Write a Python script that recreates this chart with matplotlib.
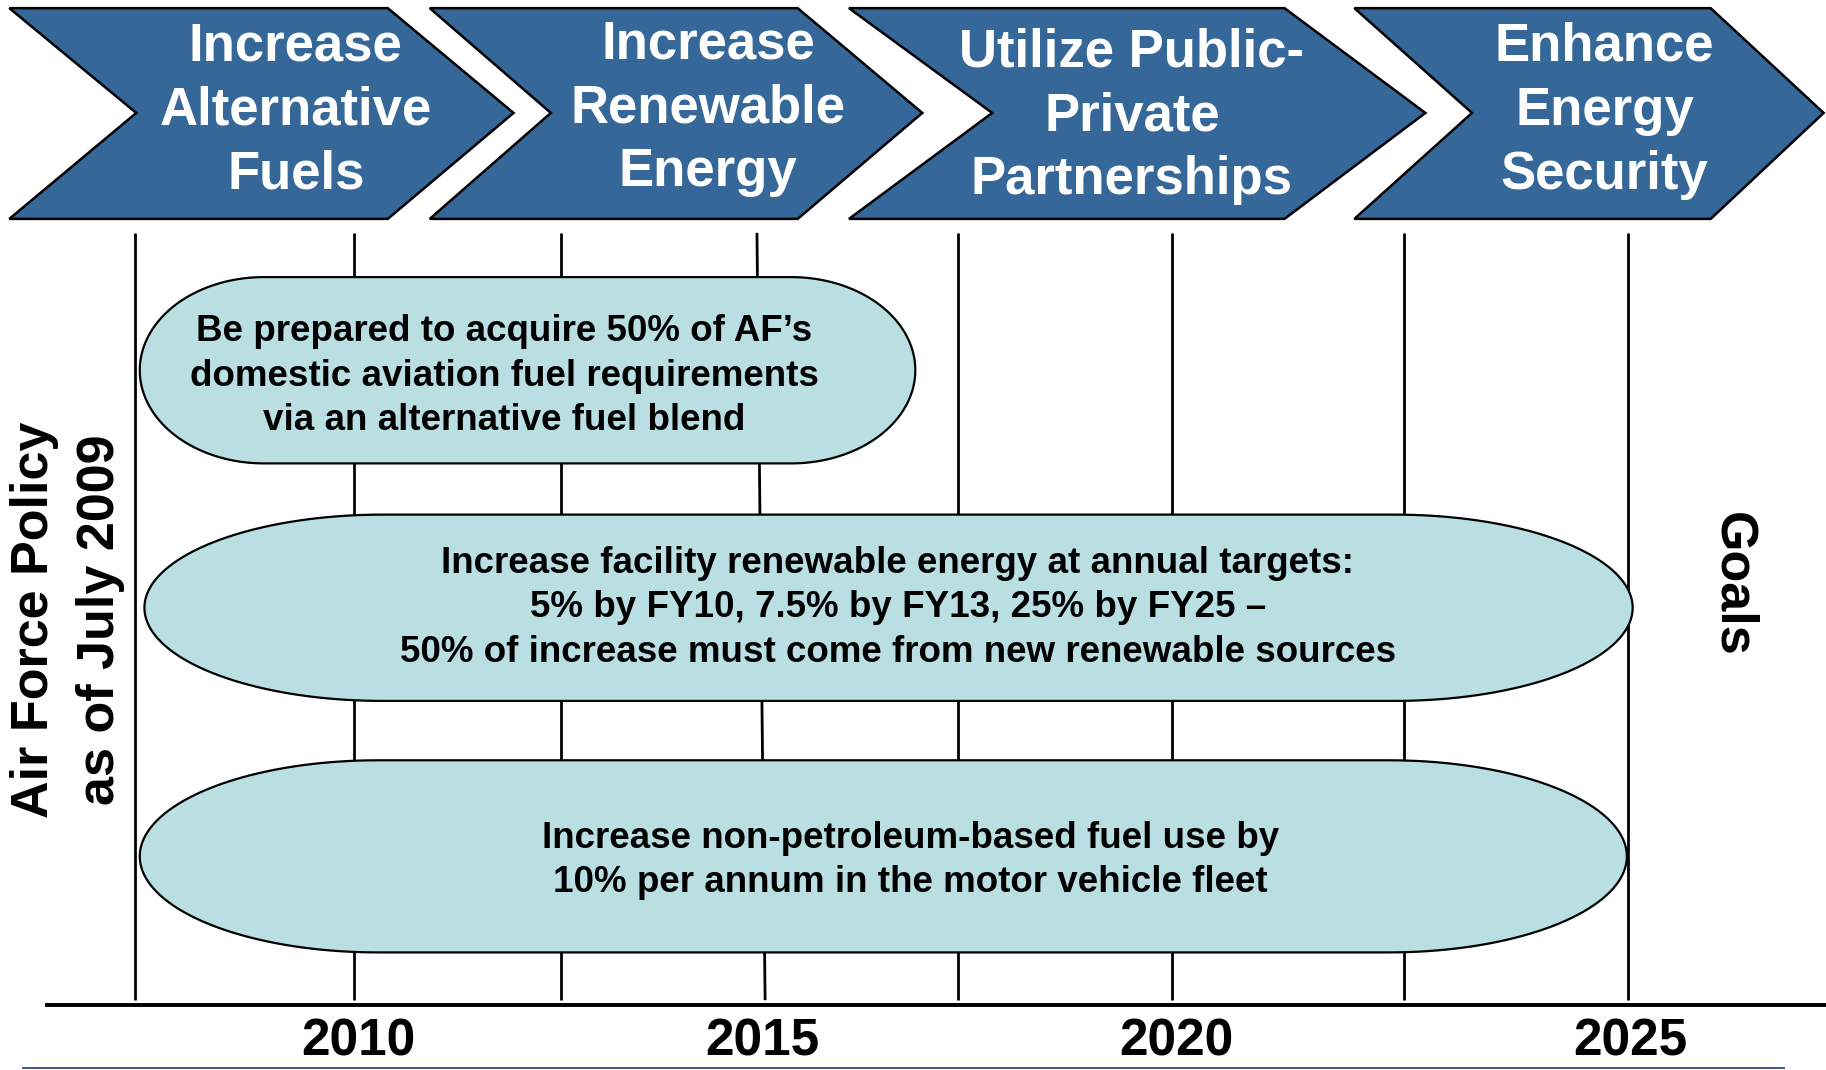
import numpy as np
import matplotlib
matplotlib.use("Agg")
import matplotlib.pyplot as plt
from matplotlib.patches import Polygon

plt.rcParams['font.family'] = ['Liberation Sans', 'DejaVu Sans']

# ---------------- data ----------------
chevron_labels = [["Increase", "Alternative", "Fuels"],
                  ["Increase", "Renewable", "Energy"],
                  ["Utilize Public-", "Private", "Partnerships"],
                  ["Enhance", "Energy", "Security"]]
# chevron geometry: left edge, notch depth, top-right x, tip x (layout units)
chev_left = [8, 369, 729, 1163]
chev_notch = [117, 473, 852, 1264]
chev_right = [333, 685, 1103, 1469]
chev_tip = [441, 792, 1224, 1566]
chev_text_x = [254, 608, 972, 1378]
chev_text_y = [95, 93, 100, 95]

year_labels = ["2010", "2015", "2020", "2025"]
year_pos = [308, 655, 1010, 1400]

divider_top = [116, 304, 482, 650, 823, 1006, 1206, 1398]
divider_bot = [116, 304, 482, 657, 823, 1006, 1206, 1398]

goal_texts = [
    ["Be prepared to acquire 50% of AF\u2019s",
     "domestic aviation fuel requirements",
     "via an alternative fuel blend"],
    ["Increase facility renewable energy at annual targets:",
     "5% by FY10, 7.5% by FY13, 25% by FY25 \u2013",
     "50% of increase must come from new renewable sources"],
    ["Increase non-petroleum-based fuel use by",
     "10% per annum in the motor vehicle fleet"],
]
goal_x0 = [120, 124, 120]
goal_x1 = [786, 1402, 1397]
goal_y0 = [238, 442, 653]
goal_y1 = [398, 602, 818]
goal_text_x = [433, 771, 782]
goal_text_y = [323, 522, 739]

left_label = ["Air Force Policy", "as of July 2009"]
left_label_x = [30, 86]
right_label = "Goals"

# ---------------- style ----------------
CHEV_COLOR = "#356799"
GOAL_COLOR = "#b9dfe2"

fig = plt.figure(figsize=(18.26, 10.70), dpi=100)
ax = fig.add_axes([0, 0, 1, 1])
ax.set_xlim(0, 1568)
ax.set_ylim(919, 0)
ax.axis('off')

# chevrons
for i in range(4):
    ymid = 97
    pts = [(chev_left[i], 7), (chev_right[i], 7), (chev_tip[i], ymid),
           (chev_right[i], 188), (chev_left[i], 188), (chev_notch[i], ymid)]
    ax.add_patch(Polygon(pts, closed=True, facecolor=CHEV_COLOR,
                         edgecolor='black', lw=1.8, zorder=3))
    for j, line in enumerate(chevron_labels[i]):
        ax.text(chev_text_x[i], chev_text_y[i] + (j - 1) * 55, line,
                color='white', fontsize=38, fontweight='bold',
                ha='center', va='center', zorder=4)

# vertical dividers
for xt, xb in zip(divider_top, divider_bot):
    ax.plot([xt, xb], [200, 859], color='black', lw=2.0, zorder=1,
            solid_capstyle='butt')

# baseline
ax.plot([39, 1568], [863, 863], color='black', lw=2.8, zorder=2,
        solid_capstyle='butt')
# thin blue line at the bottom
ax.plot([20, 1532], [917, 917], color='#2b4a8c', lw=1.3, zorder=2)

# year labels
for x, lab in zip(year_pos, year_labels):
    ax.text(x, 895, lab, fontsize=37, fontweight='bold', ha='center',
            va='center', color='black')

# goal terminator shapes
def terminator(x0, x1, y0, y1):
    w = x1 - x0
    rx = 0.16 * w
    ry = (y1 - y0) / 2
    yc = (y0 + y1) / 2
    t = np.linspace(np.pi / 2, 3 * np.pi / 2, 80)
    left = np.column_stack([x0 + rx + rx * np.cos(t), yc - ry * np.sin(t)])
    t2 = np.linspace(-np.pi / 2, np.pi / 2, 80)
    right = np.column_stack([x1 - rx + rx * np.cos(t2), yc - ry * np.sin(t2)])
    return np.vstack([left, right])

for i, lines in enumerate(goal_texts):
    pts = terminator(goal_x0[i], goal_x1[i], goal_y0[i], goal_y1[i])
    ax.add_patch(Polygon(pts, closed=True, facecolor=GOAL_COLOR,
                         edgecolor='black', lw=1.6, zorder=5))
    n = len(lines)
    for j, line in enumerate(lines):
        y = goal_text_y[i] + (j - (n - 1) / 2) * 38
        ax.text(goal_text_x[i], y, line, fontsize=26.5, fontweight='bold',
                ha='center', va='center', color='black', zorder=6)

# side labels
for x, line in zip(left_label_x, left_label):
    ax.text(x, 532, line, rotation=90, fontsize=37.5, fontweight='bold',
            ha='center', va='center')
ax.text(1488, 502, right_label, rotation=-90, fontsize=37.5,
        fontweight='bold', ha='center', va='center')

fig.savefig("out.png", dpi=100)
